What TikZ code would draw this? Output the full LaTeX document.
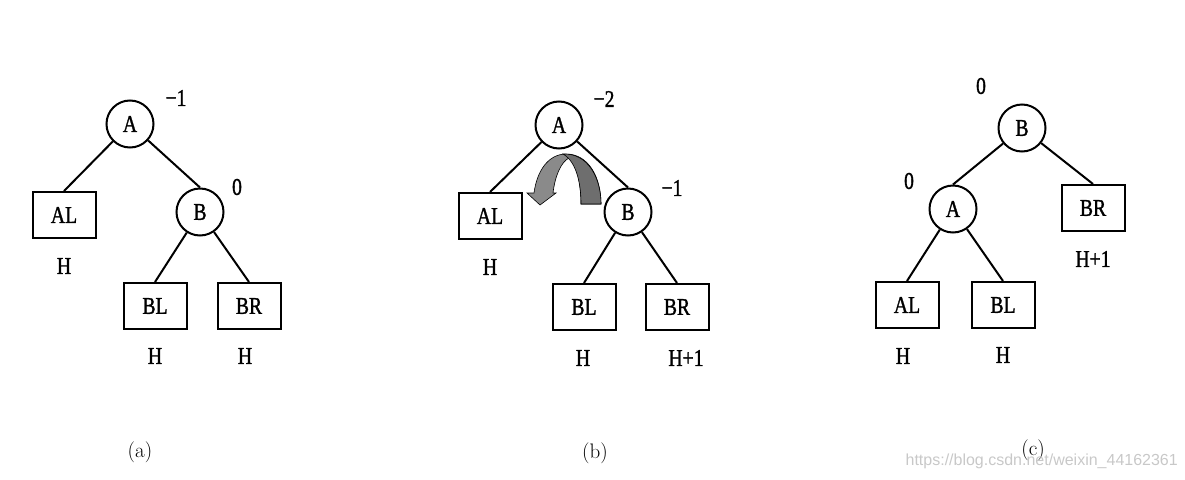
\documentclass[tikz,border=0pt]{standalone}
\usepackage{fontspec}
\newfontfamily\nodefont{Liberation Serif}[FakeStretch=0.82,FakeBold=1.2]
\newfontfamily\wmfont{Liberation Sans}
\definecolor{arrowlight}{RGB}{138,138,138}
\definecolor{arrowdark}{RGB}{110,110,110}
\definecolor{wmgray}{RGB}{200,200,200}
\begin{document}
\begin{tikzpicture}[x=1pt,y=-1pt,
  circ/.style={circle,draw,line width=2pt,minimum size=47pt,inner sep=0pt,font=\nodefont\fontsize{24}{28}\selectfont},
  box/.style={rectangle,draw,line width=2pt,minimum width=63pt,minimum height=46pt,inner sep=0pt,font=\nodefont\fontsize{24}{28}\selectfont},
  lbl/.style={inner sep=0pt,font=\nodefont\fontsize{24}{28}\selectfont},
  captext/.style={inner sep=0pt,font=\fontsize{21}{25}\selectfont},
  edge/.style={line width=2pt},
  arrowline/.style={line width=0.6pt,draw=black}]
\useasboundingbox (0,0) rectangle (1185,479);
% ---------- (a)
\node[circ] (A1) at (130,124) {A};
\node[lbl] (bfA1) at (176,98) {−1};
\node[box] (AL1) at (64,215) {AL};
\node[lbl] (hAL1) at (64,266) {H};
\node[circ] (B1) at (200,212) {B};
\node[lbl] (bfB1) at (237,187) {0};
\node[box] (BL1) at (155,306) {BL};
\node[box] (BR1) at (249,306) {BR};
\node[lbl] (hBL1) at (155,356) {H};
\node[lbl] (hBR1) at (245,356) {H};
\node[captext] (capa) at (140,452) {(a)};
\draw[edge] (A1) -- (AL1.north);
\draw[edge] (A1) -- (B1.north);
\draw[edge] (B1) -- (BL1.north);
\draw[edge] (B1) -- (BR1.north);
% ---------- (b)
\node[circ] (A2) at (559,125) {A};
\node[lbl] (bfA2) at (604,99) {−2};
\node[box] (AL2) at (490,216) {AL};
\node[lbl] (hAL2) at (490,267) {H};
\node[circ] (B2) at (628,212) {B};
\node[lbl] (bfB2) at (672,188) {−1};
\node[box] (BL2) at (584,307) {BL};
\node[box] (BR2) at (677,307) {BR};
\node[lbl] (hBL2) at (583,358) {H};
\node[lbl] (hBR2) at (686,358) {H+1};
\node[captext] (capb) at (595,453) {(b)};
\draw[edge] (A2) -- (AL2.north);
\draw[edge] (A2) -- (B2.north);
\draw[edge] (B2) -- (BL2.north);
\draw[edge] (B2) -- (BR2.north);
% rotation arrow
\filldraw[arrowline,fill=arrowlight] (534,193) .. controls (537,170) and (549,154) .. (566,154)
  .. controls (589,154) and (601,178) .. (601,204) -- (581,204)
  .. controls (581,185) and (577,163) .. (569,158)
  .. controls (561,162) and (555,176) .. (553,193) -- (556,193) -- (540,205) -- (527,193) -- cycle;
\filldraw[arrowline,fill=arrowdark] (563,154) .. controls (588,153) and (601,178) .. (601,204) -- (581,204)
  .. controls (581,185) and (577,162) .. (563,154) -- cycle;
% ---------- (c)
\node[circ] (B3) at (1022,128) {B};
\node[lbl] (bfB3) at (981,86) {0};
\node[circ] (A3) at (953,209) {A};
\node[lbl] (bfA3) at (909,181) {0};
\node[box] (BR3) at (1093,208) {BR};
\node[lbl] (hBR3) at (1093,259) {H+1};
\node[box] (AL3) at (907,305) {AL};
\node[box] (BL3) at (1003,305) {BL};
\node[lbl] (hAL3) at (903,356) {H};
\node[lbl] (hBL3) at (1003,355) {H};
\node[captext] (capc) at (1033,450) {(c)};
\draw[edge] (B3) -- (A3.north);
\draw[edge] (B3) -- (BR3.north);
\draw[edge] (A3) -- (AL3.north);
\draw[edge] (A3) -- (BL3.north);
% watermark
\node[anchor=east,inner sep=0pt,text=wmgray,font=\wmfont\fontsize{16}{19}\selectfont] (wm) at (1178,461) {https://blog.csdn.net/weixin\_44162361};
\end{tikzpicture}
\end{document}
